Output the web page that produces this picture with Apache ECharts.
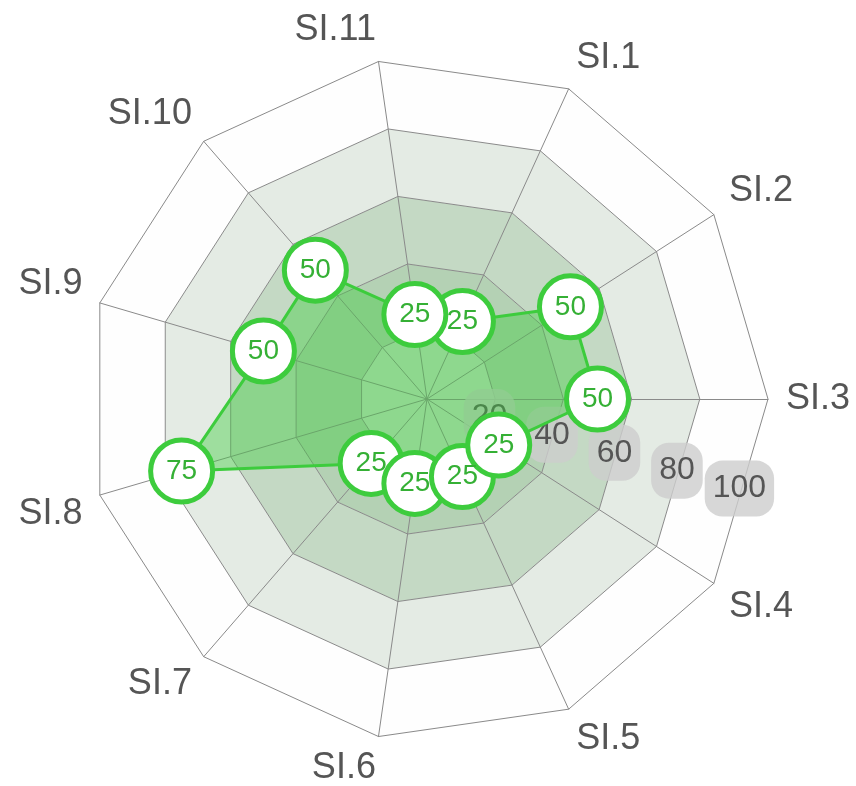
<!DOCTYPE html>
<html>
<head>
<meta charset="utf-8">
<title>SI radar</title>
<script src="https://cdn.jsdelivr.net/npm/echarts@6/dist/echarts.min.js"></script>
</head>
<body style="margin:0;background:#fff">
<div id="main" style="width:856px;height:786px"></div>
<script type="text/javascript">
    var categories = ['SI.1', 'SI.2', 'SI.3', 'SI.4', 'SI.5', 'SI.6', 'SI.7', 'SI.8', 'SI.9', 'SI.10', 'SI.11'];
    var scores = [25, 50, 50, 25, 25, 25, 25, 75, 50, 50, 25];
    var scaleTicks = [20, 40, 60, 80, 100];

    // echarts puts indicators counterclockwise, the chart runs clockwise from SI.1
    var order = [0];
    for (var i = categories.length - 1; i > 0; i--) order.push(i);
    var step = 360 / categories.length;
    var startAngle = 2 * step;
    var maxVal = scaleTicks[scaleTicks.length - 1];

    var indicator = order.map(function (i) { return { name: categories[i], max: maxVal, min: 0 }; });
    var values = order.map(function (i) { return scores[i]; });

    // names above/below the middle sit a bit further out than echarts puts them
    var nameSide = {};
    order.forEach(function (i, idx) {
        var s = Math.sin((startAngle + idx * step) * Math.PI / 180);
        nameSide[categories[i]] = s > 0.25 ? 'up' : (s < -0.25 ? 'down' : 'mid');
    });

    var myChart = echarts.init(document.getElementById('main'));
    var green = '#3dcc3d';
    var nameFont = { color: '#555', fontSize: 36, fontFamily: 'Liberation Sans' };
    var option = {
        backgroundColor: '#fff',
        radar: {
            center: [427, 399],
            radius: 341,
            startAngle: startAngle,
            splitNumber: scaleTicks.length,
            indicator: indicator,
            axisName: {
                color: '#555',
                fontSize: 36,
                fontFamily: 'Liberation Sans',
                formatter: function (name) {
                    return '{' + nameSide[name] + '|' + name + '}';
                },
                rich: {
                    up: Object.assign({ padding: [0, 0, 28, 0] }, nameFont),
                    down: Object.assign({ padding: [28, 0, 0, 0] }, nameFont),
                    mid: nameFont
                }
            },
            axisNameGap: 18,
            axisLine: { lineStyle: { color: '#8a8a8a', width: 1 } },
            splitLine: { lineStyle: { color: '#8a8a8a', width: 1 } },
            splitArea: {
                show: true,
                areaStyle: { color: ['#c8e1c8', '#b4d1b4', '#c4d9c4', '#e4ebe4', '#fefefe'] }
            }
        },
        polar: { center: [427, 399], radius: 325 },
        angleAxis: { show: false, min: 0, max: 360, startAngle: -16 },
        radiusAxis: {
            min: 0,
            max: maxVal,
            interval: scaleTicks[0],
            z: 1,
            axisLine: { show: false },
            axisTick: { show: false },
            splitLine: { show: false },
            axisLabel: {
                showMinLabel: false,
                showMaxLabel: true,
                hideOverlap: false,
                margin: 0,
                align: 'center',
                verticalAlign: 'middle',
                color: '#555',
                fontSize: 32,
                fontFamily: 'Liberation Sans',
                backgroundColor: 'rgba(205,205,205,0.8)',
                borderRadius: 18,
                padding: [12, 8]
            }
        },
        series: [{
            type: 'radar',
            z: 3,
            symbol: 'circle',
            symbolSize: 62,
            lineStyle: { color: green, width: 3 },
            areaStyle: { color: green, opacity: 0.42 },
            itemStyle: { color: '#fff', borderColor: green, borderWidth: 5 },
            label: {
                show: true,
                position: 'inside',
                color: '#35b035',
                fontSize: 28,
                fontFamily: 'Liberation Sans'
            },
            data: [{ value: values }]
        }]
    };
    myChart.setOption(option);
</script>
</body>
</html>
